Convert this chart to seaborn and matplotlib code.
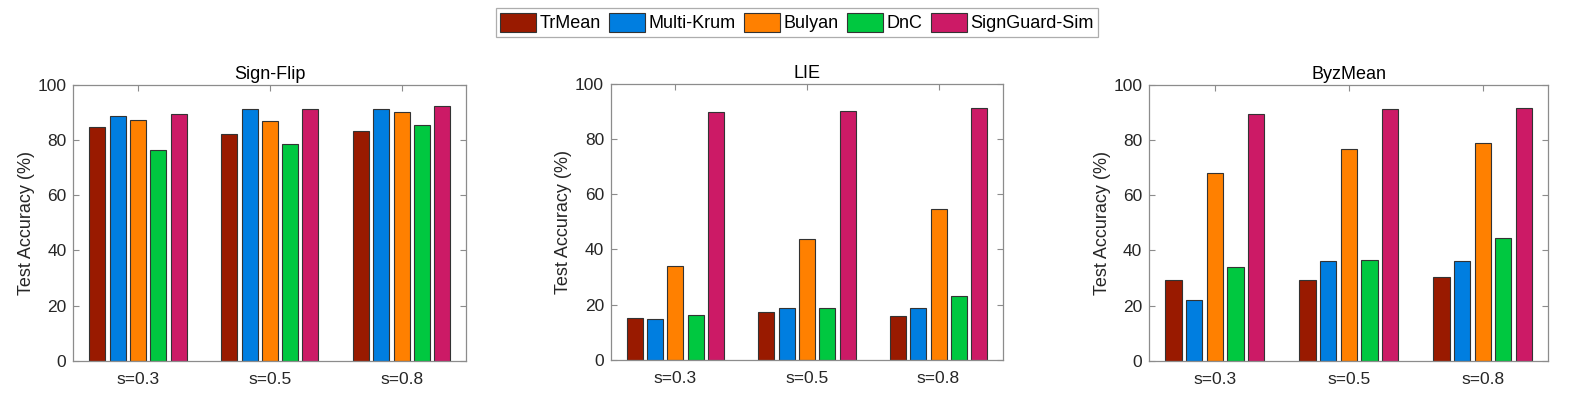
import matplotlib
matplotlib.use("Agg")
import matplotlib.pyplot as plt
import seaborn as sns
import pandas as pd

# ---- data ----
methods = ["TrMean", "Multi-Krum", "Bulyan", "DnC", "SignGuard-Sim"]
settings = ["s=0.3", "s=0.5", "s=0.8"]
titles = ["Sign-Flip", "LIE", "ByzMean"]

signflip_trmean = [84.9, 82.3, 83.4]
signflip_mkrum = [88.9, 91.2, 91.2]
signflip_bulyan = [87.3, 86.9, 90.1]
signflip_dnc = [76.5, 78.5, 85.4]
signflip_sg = [89.5, 91.2, 92.3]

lie_trmean = [15.0, 17.2, 16.0]
lie_mkrum = [14.9, 18.6, 18.6]
lie_bulyan = [33.9, 43.7, 54.8]
lie_dnc = [16.2, 18.6, 23.0]
lie_sg = [89.7, 90.1, 91.3]

byz_trmean = [29.1, 29.3, 30.5]
byz_mkrum = [21.9, 36.2, 36.2]
byz_bulyan = [68.0, 76.7, 79.1]
byz_dnc = [33.9, 36.4, 44.6]
byz_sg = [89.6, 91.3, 91.8]

colors = ["#991a00", "#007ee0", "#ff8000", "#00c840", "#cc1a66"]

panels = [
    [signflip_trmean, signflip_mkrum, signflip_bulyan, signflip_dnc, signflip_sg],
    [lie_trmean, lie_mkrum, lie_bulyan, lie_dnc, lie_sg],
    [byz_trmean, byz_mkrum, byz_bulyan, byz_dnc, byz_sg],
]

sns.set_theme(style="white")
plt.rcParams["font.family"] = ["Liberation Sans", "DejaVu Sans"]
text_color = "#262626"
spine_color = "#8c8c8c"

fig = plt.figure(figsize=(15.78, 3.98), dpi=100)
ax_pos = [
    [0.0465, 0.0937, 0.2490, 0.693],
    [0.3872, 0.0962, 0.2484, 0.693],
    [0.7283, 0.0937, 0.2529, 0.693],
]

for i, (vals, title) in enumerate(zip(panels, titles)):
    rows = []
    for m, series in zip(methods, vals):
        for s, v in zip(settings, series):
            rows.append({"setting": s, "method": m, "acc": v})
    df = pd.DataFrame(rows)
    ax = fig.add_axes(ax_pos[i])
    sns.barplot(data=df, x="setting", y="acc", hue="method", order=settings,
                hue_order=methods, palette=colors, width=0.77, gap=0.21,
                edgecolor="#333333", linewidth=0.8, errorbar=None, ax=ax,
                legend=(i == 0), saturation=1)
    ax.set_ylim(0, 100)
    ax.set_xlim(-0.49, 2.49)
    ax.set_yticks([0, 20, 40, 60, 80, 100])
    ax.set_xlabel("")
    ax.set_ylabel("Test Accuracy (%)", fontsize=13, color=text_color, labelpad=2)
    ax.set_title(title, fontsize=13, color="black", pad=4)
    ax.tick_params(direction="in", length=4, width=0.8, color=spine_color,
                   labelsize=12.5, labelcolor=text_color, top=True, right=True,
                   bottom=True, left=True)
    ax.tick_params(axis="x", pad=8)
    ax.tick_params(axis="y", pad=5)
    for sp in ax.spines.values():
        sp.set_visible(True)
        sp.set_color(spine_color)
        sp.set_linewidth(0.9)
    if i == 0:
        handles, labels = ax.get_legend_handles_labels()
        ax.get_legend().remove()

leg = fig.legend(handles, labels, loc="upper center", ncol=5,
                 bbox_to_anchor=(797 / 1578, 1 - 8 / 398),
                 fontsize=13, frameon=True, fancybox=False,
                 handlelength=2.0, handleheight=1.3, handletextpad=0.2,
                 columnspacing=0.45, borderpad=0.25, borderaxespad=0)
leg.get_frame().set_edgecolor("#999999")
leg.get_frame().set_linewidth(0.9)
for t in leg.get_texts():
    t.set_color("black")

fig.savefig("out.png", dpi=100)
